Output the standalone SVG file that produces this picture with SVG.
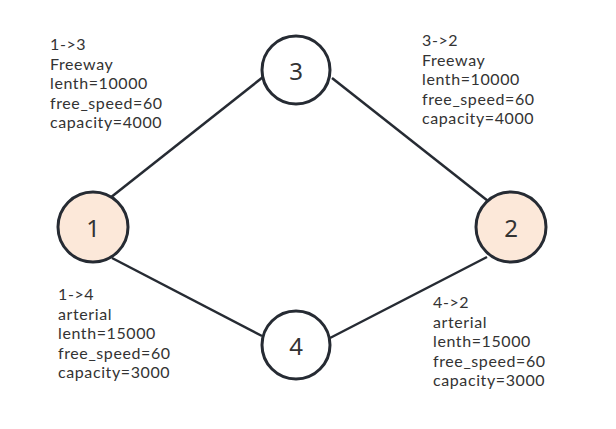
<svg xmlns="http://www.w3.org/2000/svg" width="616" height="429" viewBox="0 0 616 429">
<style>
.edge{stroke:#262b33;stroke-width:2.5;fill:none}
.node{stroke:#262b33;stroke-width:3}
.plain{fill:#ffffff}
.od{fill:#fce8d9}
.nlabel{font-family:"Noto Sans","Open Sans",sans-serif;font-size:24px;fill:#333333;text-anchor:middle;dominant-baseline:central}
.info{font-family:Lato,"Noto Sans",sans-serif;font-size:16px;letter-spacing:0.6px;fill:#333333}
</style>
<rect width="616" height="429" fill="#ffffff"/>
<g id="connectors">
<line class="edge" x1="110" y1="198" x2="263" y2="77"/>
<line class="edge" x1="332" y1="78" x2="488" y2="201"/>
<line class="edge" x1="112" y1="258" x2="262" y2="336"/>
<line class="edge" x1="330" y1="338" x2="487" y2="257"/>
</g>
<g id="node1">
<circle class="node od" cx="93" cy="227" r="35"/>
<text class="nlabel" x="93" y="227">1</text>
</g>
<g id="node2">
<circle class="node od" cx="511" cy="227" r="35"/>
<text class="nlabel" x="511" y="227">2</text>
</g>
<g id="node3">
<circle class="node plain" cx="296" cy="70" r="34"/>
<text class="nlabel" x="296" y="70">3</text>
</g>
<g id="node4">
<circle class="node plain" cx="296" cy="345" r="34"/>
<text class="nlabel" x="296" y="345">4</text>
</g>
<g id="label13">
<text class="info" x="50" y="50">1-&gt;3</text>
<text class="info" x="50" y="69.5">Freeway</text>
<text class="info" x="50" y="89">lenth=10000</text>
<text class="info" x="50" y="108.5">free_speed=60</text>
<text class="info" x="50" y="128">capacity=4000</text>
</g>
<g id="label32">
<text class="info" x="422" y="46">3-&gt;2</text>
<text class="info" x="422" y="65.5">Freeway</text>
<text class="info" x="422" y="85">lenth=10000</text>
<text class="info" x="422" y="104.5">free_speed=60</text>
<text class="info" x="422" y="124">capacity=4000</text>
</g>
<g id="label14">
<text class="info" x="58" y="300">1-&gt;4</text>
<text class="info" x="58" y="319.5">arterial</text>
<text class="info" x="58" y="339">lenth=15000</text>
<text class="info" x="58" y="358.5">free_speed=60</text>
<text class="info" x="58" y="378">capacity=3000</text>
</g>
<g id="label42">
<text class="info" x="433" y="308">4-&gt;2</text>
<text class="info" x="433" y="327.5">arterial</text>
<text class="info" x="433" y="347">lenth=15000</text>
<text class="info" x="433" y="366.5">free_speed=60</text>
<text class="info" x="433" y="386">capacity=3000</text>
</g>
</svg>
